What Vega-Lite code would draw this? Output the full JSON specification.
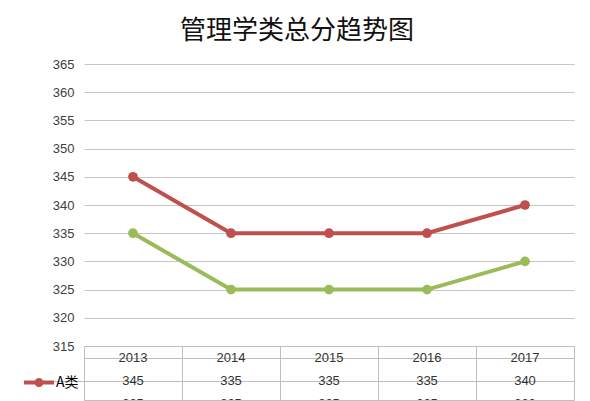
{
  "$schema": "https://vega.github.io/schema/vega-lite/v6.json",
  "padding": {"left": 22, "top": 18, "right": 10, "bottom": 0},
  "background": "white",
  "spacing": 0,
  "bounds": "flush",
  "config": {"view": {"stroke": null}, "font": "Liberation Sans"},
  "data": {
    "values": [
      {"year": "2013", "series": "A类", "value": 345},
      {"year": "2014", "series": "A类", "value": 335},
      {"year": "2015", "series": "A类", "value": 335},
      {"year": "2016", "series": "A类", "value": 335},
      {"year": "2017", "series": "A类", "value": 340},
      {"year": "2013", "series": "B类", "value": 335},
      {"year": "2014", "series": "B类", "value": 325},
      {"year": "2015", "series": "B类", "value": 325},
      {"year": "2016", "series": "B类", "value": 325},
      {"year": "2017", "series": "B类", "value": 330}
    ]
  },
  "vconcat": [
    {
      "width": 490,
      "height": 282,
      "title": {"text": "管理学类总分趋势图", "fontSize": 26, "font": "Noto Sans CJK SC", "fontWeight": "normal", "color": "#111111", "dx": -32, "offset": 14},
      "encoding": {
        "x": {"field": "year", "type": "ordinal", "scale": {"type": "point", "padding": 0.5}, "axis": null},
        "y": {"field": "value", "type": "quantitative", "scale": {"domain": [315, 365], "nice": false, "zero": false},
          "axis": {"values": [315, 320, 325, 330, 335, 340, 345, 350, 355, 360, 365], "title": null, "domain": false, "ticks": false, "labelPadding": 10, "labelFontSize": 13, "labelColor": "#404040", "gridColor": "#c6c6c6", "gridWidth": 1.2}},
        "color": {"field": "series", "type": "nominal",
          "scale": {"domain": ["A类", "B类"], "range": ["#C0504D", "#9BBB59"]},
          "legend": {"orient": "none", "legendX": -54.5, "legendY": 309, "title": null, "direction": "vertical",
            "symbolType": "M-2,0L2,0M-0.33,0A0.33,0.33,0,1,0,0.33,0A0.33,0.33,0,1,0,-0.33,0Z",
            "symbolSize": 225, "labelOffset": 7.5, "rowPadding": 7, "padding": 0,
            "labelFontSize": 14, "labelFont": "Noto Sans CJK SC", "labelColor": "#000000",
            "encode": {"symbols": {"update": {"fill": {"scale": "color", "field": "value"}, "stroke": {"scale": "color", "field": "value"}, "strokeWidth": {"value": 4}, "opacity": {"value": 1}}}}}}
      },
      "layer": [
        {"mark": {"type": "line", "strokeWidth": 4}},
        {"mark": {"type": "point", "filled": true, "size": 95, "opacity": 1}}
      ]
    },
    {
      "width": 490,
      "height": 54,
      "view": {"stroke": "#bfbfbf"},
      "encoding": {
        "x": {"field": "year", "type": "ordinal", "scale": {"type": "band", "paddingInner": 0, "paddingOuter": 0},
          "axis": {"orient": "top", "bandPosition": 0, "grid": true, "gridColor": "#bfbfbf", "labels": false, "ticks": false, "domain": false, "title": null}}
      },
      "layer": [
        {
          "transform": [{"filter": "datum.series === 'A类'"}],
          "mark": {"type": "text", "fontSize": 13, "color": "#333333", "clip": true},
          "encoding": {
            "text": {"field": "year"},
            "y": {"datum": "hdr", "type": "nominal", "scale": {"domain": ["hdr", "A类", "B类"], "range": [0, 69], "paddingInner": 0, "paddingOuter": 0}}
          }
        },
        {
          "mark": {"type": "text", "fontSize": 13, "color": "#333333", "clip": true},
          "encoding": {
            "text": {"field": "value"},
            "y": {"field": "series", "type": "nominal", "scale": {"domain": ["hdr", "A类", "B类"], "range": [0, 69], "paddingInner": 0, "paddingOuter": 0},
              "axis": {"bandPosition": 0, "grid": true, "gridColor": "#bfbfbf", "labels": false, "ticks": true, "tickSize": 61,
                "tickColor": {"condition": {"test": "datum.value === 'hdr'", "value": "transparent"}, "value": "#bfbfbf"},
                "domain": false, "title": null}}
          }
        }
      ]
    }
  ]
}
